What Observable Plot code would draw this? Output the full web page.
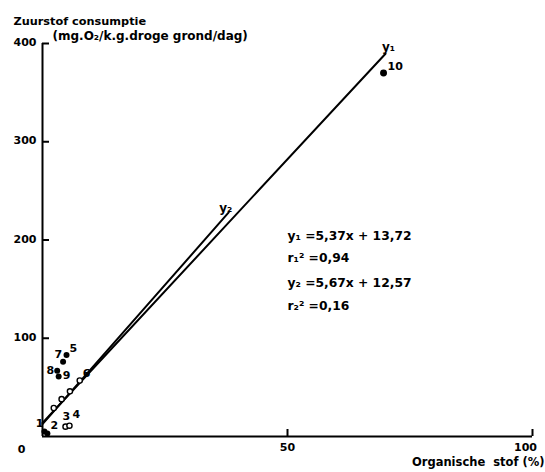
<!DOCTYPE html>
<html>
<head>
<meta charset="utf-8">
<script src="https://cdn.jsdelivr.net/npm/d3@7"></script>
<script src="https://cdn.jsdelivr.net/npm/@observablehq/plot@0.6"></script>
<style>
  body { margin: 0; background: #fff; }
  #chart svg { font-family: "DejaVu Sans", sans-serif; font-weight: bold; }
</style>
</head>
<body>
<div id="chart"></div>
<script>
// Soil samples: organic matter (%) against oxygen consumption
const sampleIds     = ["1", "2", "3", "4", "5", "6", "7", "8", "9", "10", "", "", ""];
const organicMatter = [0.4, 1.0, 4.7, 5.5, 4.9, 7.6, 4.2, 3.0, 3.3, 69.6, 5.6, 3.9, 2.3];
const oxygenUse     = [5, 3, 10, 11, 83, 57, 76, 67, 61, 370, 46, 38, 29];

// Regression lines y = a·x + b
const fitNames      = ["y₁", "y₂"];
const fitSlopes     = [5.37, 5.67];
const fitIntercepts = [13.72, 12.57];
const fitEnds       = [70, 38];
const fitTexts      = ["y₁ =5,37x + 13,72", "r₁² =0,94", "y₂ =5,67x + 12,57", "r₂² =0,16"];
const fitTextLevels = [204, 182, 156, 133];

const yTicks = [100, 200, 300, 400];
const xTicks = [50, 100];

const width = 545, height = 472;
const margin = {top: 43, right: 13, bottom: 36, left: 42};
const plotW = width - margin.left - margin.right;
const plotH = height - margin.top - margin.bottom;

const samples = sampleIds.map((id, i) => ({id, x: organicMatter[i], y: oxygenUse[i]}));
const fits = fitNames.flatMap((name, i) => [
  {name, x: 0, y: fitIntercepts[i]},
  {name, x: fitEnds[i], y: fitSlopes[i] * fitEnds[i] + fitIntercepts[i]}
]);
const fitTips = fits.filter((d, i) => i % 2 === 1);

const open = samples.filter(d => d.id === "" || d.id === "3" || d.id === "4" || d.id === "6");
const filled = samples.filter(d => !open.includes(d));

// label placement per sample id: [dx, dy, anchor]
const labelPlace = {
  "1": [-1, -8, "end"], "2": [3, -8, "start"], "3": [-3, -10, "start"], "4": [3, -11, "start"],
  "5": [3, -6, "start"], "6": [3, -7, "start"], "7": [-1, -7, "end"], "8": [-3, 0, "end"],
  "9": [4, -1, "start"], "10": [4, -7, "start"]
};
const labelMarks = Object.entries(labelPlace).map(([id, [dx, dy, anchor]]) =>
  Plot.text(samples.filter(d => d.id === id), {
    x: "x", y: "y", text: "id", dx, dy, textAnchor: anchor, fontSize: 11, fill: "black", fontWeight: "bold"
  })
);

const txt = {fill: "black", fontWeight: "bold"};

const chart = Plot.plot({
  width, height,
  marginTop: margin.top, marginRight: margin.right,
  marginBottom: margin.bottom, marginLeft: margin.left,
  x: {domain: [0, 100], axis: null},
  y: {domain: [0, 400], axis: null},
  marks: [
    // axes
    Plot.ruleX([0], {y1: 0, y2: 400, strokeWidth: 2}),
    Plot.ruleY([0], {x1: 0, x2: 100, strokeWidth: 2}),
    Plot.tickY(yTicks, {y: d => d, insetRight: plotW - 7, strokeWidth: 2}),
    Plot.tickX(xTicks, {x: d => d, insetTop: plotH - 7, strokeWidth: 2}),
    Plot.text(yTicks, {x: 0, y: d => d, text: d => String(d), textAnchor: "end", dx: -6, dy: -1, fontSize: 11, ...txt}),
    Plot.text([50], {x: d => d, y: 0, text: d => String(d), dy: 11, fontSize: 11, ...txt}),
    Plot.text([100], {x: d => d, y: 0, text: d => String(d), dy: 11, dx: -7, fontSize: 11, ...txt}),
    Plot.text(["0"], {x: 0, y: 0, text: d => d, dx: -21, dy: 13, fontSize: 11, ...txt}),
    Plot.text(["Zuurstof consumptie"], {frameAnchor: "top-left", text: d => d, textAnchor: "start", dx: -29, dy: -27, fontSize: 11.3, ...txt}),
    Plot.text(["(mg.O₂/k.g.droge grond/dag)"], {frameAnchor: "top-left", text: d => d, textAnchor: "start", dx: 10, dy: -12, fontSize: 12, ...txt}),
    Plot.text(["Organische\u00a0\u00a0stof (%)"], {frameAnchor: "bottom-right", text: d => d, textAnchor: "end", dx: 12, dy: 29, fontSize: 11.5, ...txt}),

    // regression lines
    Plot.line(fits, {x: "x", y: "y", z: "name", stroke: "black", strokeWidth: 2}),
    Plot.text(fitTips.filter(d => d.name === "y₁"), {x: "x", y: "y", text: "name", dx: 3, dy: -7, fontSize: 12, ...txt}),
    Plot.text(fitTips.filter(d => d.name === "y₂"), {x: "x", y: "y", text: "name", dx: -3, dy: -4, fontSize: 12, ...txt}),
    Plot.text(fitTexts, {x: 50, y: (d, i) => fitTextLevels[i], text: d => d, textAnchor: "start", fontSize: 12.3, ...txt}),

    // samples
    Plot.dot(open, {x: "x", y: "y", r: 2.6, stroke: "black", strokeWidth: 1.4, fill: "white"}),
    Plot.dot(filled, {x: "x", y: "y", r: d => d.id === "10" ? 4 : 3, fill: "black", stroke: "none"}),
    ...labelMarks
  ]
});

document.getElementById("chart").appendChild(chart);
</script>
</body>
</html>
